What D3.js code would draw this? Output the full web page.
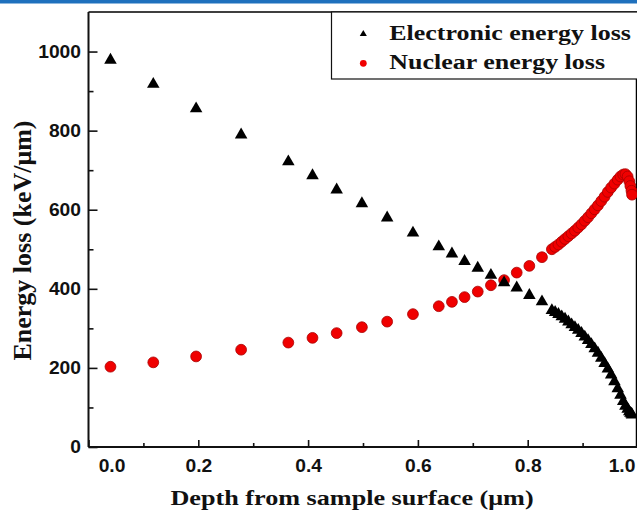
<!DOCTYPE html>
<html>
<head>
<meta charset="utf-8">
<script src="https://cdn.jsdelivr.net/npm/d3@7"></script>
<style>
  body { margin: 0; background: #fff; }
  svg { display: block; }
</style>
</head>
<body>
<div id="chart"></div>
<script>
// depth (um), shared by both series
const depth = [0.040, 0.118, 0.196, 0.278, 0.364, 0.408, 0.452, 0.498, 0.544, 0.591,
    0.638, 0.662, 0.685, 0.709, 0.733, 0.757, 0.780, 0.803, 0.826,
    0.844, 0.850, 0.856, 0.862, 0.868, 0.874, 0.880, 0.886, 0.892, 0.898,
    0.904, 0.910, 0.916, 0.922, 0.928, 0.934, 0.940, 0.946, 0.952, 0.958,
    0.964, 0.969, 0.974, 0.978, 0.982, 0.985, 0.987, 0.989, 0.990];

const electronic = [981, 920, 858, 792, 724, 689, 653, 618, 582, 544,
    509, 491, 472, 455, 437, 418, 405, 386, 370,
    348, 343, 338, 332, 326, 319, 312, 305, 298, 290,
    281, 272, 262, 251, 240, 227, 214, 200, 185, 168,
    150, 134, 118, 106, 98, 92, 88, 86, 84];

const nuclear = [203, 214, 229, 246, 264, 276, 288, 303, 317, 336,
    356, 367, 379, 393, 409, 422, 441, 458, 480,
    500, 506, 512, 519, 526, 533, 540, 547, 555, 563,
    572, 581, 591, 601, 611, 622, 633, 645, 656, 666,
    676, 684, 689, 690, 684, 672, 660, 648, 638];

const xTicks = [0, 0.2, 0.4, 0.6, 0.8, 1.0];
const xMinorTicks = [0.1, 0.3, 0.5, 0.7, 0.9];
const yTicks = [0, 200, 400, 600, 800, 1000];
const yMinorTicks = [100, 300, 500, 700, 900];
const seriesNames = ["Electronic energy loss", "Nuclear energy loss"];

const W = 637, H = 514;
const m = {left: 88.5, right: 637.5, top: 12, bottom: 447};

const svg = d3.select("#chart").append("svg")
    .attr("width", W)
    .attr("height", H);

// blue strip at the very top
svg.append("rect")
    .attr("x", 0).attr("y", 0)
    .attr("width", W).attr("height", 3.5)
    .attr("fill", "#1f70bd");

const x = d3.scaleLinear().domain([0, 1.0]).range([m.left, m.right]);
const y = d3.scaleLinear().domain([0, 1100]).range([m.bottom, m.top]);

// frame (top + right)
svg.append("path")
    .attr("d", `M${m.left},${m.top}H${x(1.0) - 1}V${m.bottom}`)
    .attr("fill", "none")
    .attr("stroke", "#000")
    .attr("stroke-width", 1.5);

const tickFont = "'Liberation Sans', Arial, sans-serif";
const serif = "'Liberation Serif', 'Times New Roman', serif";

// x axis
const gx = svg.append("g")
    .attr("transform", `translate(0,${m.bottom})`)
    .call(d3.axisBottom(x).tickValues(xTicks).tickFormat(d3.format(".1f")).tickSize(-7).tickPadding(13));
svg.append("g")
    .attr("transform", `translate(0,${m.bottom})`)
    .call(d3.axisBottom(x).tickValues(xMinorTicks).tickFormat("").tickSize(-4))
    .call(g => g.select(".domain").remove());

// y axis
const gy = svg.append("g")
    .attr("transform", `translate(${m.left},0)`)
    .call(d3.axisLeft(y).tickValues(yTicks).tickFormat(d3.format("d")).tickSize(-9).tickPadding(7.5));
svg.append("g")
    .attr("transform", `translate(${m.left},0)`)
    .call(d3.axisLeft(y).tickValues(yMinorTicks).tickFormat("").tickSize(-5))
    .call(g => g.select(".domain").remove());

svg.selectAll(".domain").attr("stroke-width", 2).attr("stroke", "#111");
svg.selectAll(".tick line").attr("stroke-width", 1.6).attr("stroke", "#111");

gx.selectAll(".domain").attr("d", `M${m.left},0H${x(1.0)}`);
gx.selectAll(".tick text")
    .attr("font-family", tickFont)
    .attr("font-weight", "bold")
    .attr("font-size", 17.5)
    .attr("fill", "#111")
    .attr("transform", (d, i) => {
        let dx = 0;
        if (i === 0) dx = 23;
        if (i === xTicks.length - 1) dx = -16;
        return `translate(${dx},0) scale(1.1,1)`;
    });

gy.select(".domain").attr("d", `M0,${m.bottom}V${m.top}`);
gy.selectAll(".tick text")
    .attr("font-family", tickFont)
    .attr("font-weight", "bold")
    .attr("font-size", 17.5)
    .attr("fill", "#111")
    .attr("x", 0)
    .attr("transform", "translate(-7.5,0) scale(1.1,1)");

const points = depth.map((d, i) => ({depth: d, e: electronic[i], n: nuclear[i]}));

// nuclear: red circles
svg.append("g")
    .selectAll("circle")
    .data(points)
    .join("circle")
    .attr("cx", d => x(d.depth))
    .attr("cy", d => y(d.n))
    .attr("r", 5.4)
    .attr("fill", "#f00000")
    .attr("stroke", "#a80000")
    .attr("stroke-width", 0.8);

// electronic: black triangles
const tri = d3.symbol().type(d3.symbolTriangle).size(68);
svg.append("g")
    .selectAll("path")
    .data(points)
    .join("path")
    .attr("transform", d => `translate(${x(d.depth)},${y(d.e) + 1})`)
    .attr("d", tri)
    .attr("fill", "#000");

// legend
const legend = svg.append("g");
legend.append("rect")
    .attr("x", 331.5).attr("y", 12)
    .attr("width", 320).attr("height", 67)
    .attr("fill", "#fff")
    .attr("stroke", "#111")
    .attr("stroke-width", 1.2);

legend.append("path")
    .attr("transform", "translate(363.3,34)")
    .attr("d", d3.symbol().type(d3.symbolTriangle).size(22))
    .attr("fill", "#000");
legend.append("circle")
    .attr("cx", 363.3).attr("cy", 63.3).attr("r", 3.4)
    .attr("fill", "#f00000");

legend.selectAll("text")
    .data(seriesNames)
    .join("text")
    .attr("transform", (d, i) => `translate(389.3,${39.5 + i * 29}) scale(1.18,1)`)
    .attr("font-family", serif)
    .attr("font-weight", "bold")
    .attr("font-size", 22)
    .attr("fill", "#111")
    .text(d => d);

// axis titles
svg.append("text")
    .attr("transform", "translate(352,505) scale(1.19,1)")
    .attr("text-anchor", "middle")
    .attr("font-family", serif)
    .attr("font-weight", "bold")
    .attr("font-size", 22)
    .attr("fill", "#111")
    .text("Depth from sample surface (\u03bcm)");

svg.append("text")
    .attr("transform", "translate(31,240.5) rotate(-90)")
    .attr("text-anchor", "middle")
    .attr("font-family", serif)
    .attr("font-weight", "bold")
    .attr("font-size", 26)
    .attr("fill", "#111")
    .text("Energy loss (keV/\u03bcm)");
</script>
</body>
</html>
